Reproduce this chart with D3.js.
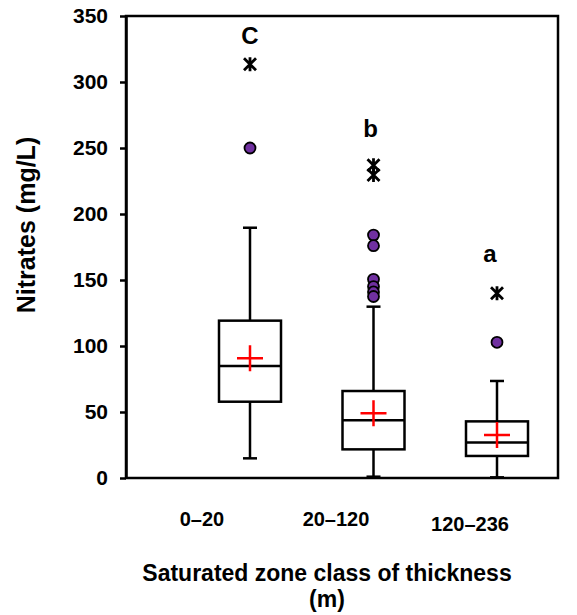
<!DOCTYPE html>
<html>
<head>
<meta charset="utf-8">
<title>Nitrates by saturated zone thickness</title>
<script src="https://d3js.org/d3.v7.min.js"></script>
<style>
  body { margin: 0; background: #fff; }
  svg { font-family: Arial, "Liberation Sans", sans-serif; }
  .axis text { font-size: 21px; font-weight: bold; fill: #000; }
  .axis path, .axis line { stroke: #000; stroke-width: 2.5; }
</style>
</head>
<body>
<script>
// data
const categories = ["0\u201320", "20\u2013120", "120\u2013236"];
const q1     = [57.8, 21.7, 16.7];
const median = [84.8, 43.7, 26.8];
const q3     = [119.2, 65.9, 42.9];
const whiskLow  = [14.9, 1, 0.5];
const whiskHigh = [189.6, 129.8, 73.5];
const means  = [90.7, 49, 32.6];
const circleOutliers = [[250], [184, 176, 150.5, 145, 141, 137.5], [102.8]];
const starOutliers   = [[313.4], [237, 229.5], [140]];
const groupLetters   = ["C", "b", "a"];
const letterLevel    = [329, 258, 164];
const yTicks = [0, 50, 100, 150, 200, 250, 300, 350];

const width = 577, height = 615;
const plot = {left: 126, right: 558, top: 16, bottom: 478};

const svg = d3.select("body").append("svg")
  .attr("width", width)
  .attr("height", height);

const y = d3.scaleLinear().domain([0, 350]).range([plot.bottom, plot.top]);
const x = d3.scalePoint().domain(categories).range([250, 497]);
// category labels sit a little left of the boxes in the original
const xLab = d3.scalePoint().domain(categories).range([202, 470]);

const boxW = 62, capW = 14;

// frame
svg.append("rect")
  .attr("x", plot.left).attr("y", plot.top)
  .attr("width", plot.right - plot.left)
  .attr("height", plot.bottom - plot.top)
  .attr("fill", "none").attr("stroke", "#000").attr("stroke-width", 2.5);

// y axis
svg.append("g")
  .attr("class", "axis")
  .attr("transform", "translate(" + plot.left + ",0)")
  .call(d3.axisLeft(y).tickValues(yTicks).tickSize(6).tickPadding(12).tickSizeOuter(0));

svg.append("text")
  .attr("transform", "translate(35,225) rotate(-90)")
  .attr("text-anchor", "middle")
  .style("font-size", "25px").style("font-weight", "bold")
  .text("Nitrates (mg/L)");

// category labels
svg.selectAll(".cat")
  .data(categories)
  .enter().append("text")
    .attr("class", "cat")
    .attr("x", d => xLab(d))
    .attr("y", (d, i) => i === 2 ? 531 : 526)
    .attr("text-anchor", "middle")
    .style("font-size", "20px").style("font-weight", "bold")
    .text(d => d);

svg.append("text")
  .attr("x", 327).attr("y", 581)
  .attr("text-anchor", "middle")
  .style("font-size", "23px").style("font-weight", "bold")
  .text("Saturated zone class of thickness");
svg.append("text")
  .attr("x", 327).attr("y", 607)
  .attr("text-anchor", "middle")
  .style("font-size", "23px").style("font-weight", "bold")
  .text("(m)");

const g = svg.selectAll(".box")
  .data(categories)
  .enter().append("g")
    .attr("class", "box")
    .attr("transform", d => "translate(" + x(d) + ",0)");

// whiskers
g.append("line")
  .attr("y1", (d, i) => y(whiskLow[i])).attr("y2", (d, i) => y(whiskHigh[i]))
  .attr("stroke", "#000").attr("stroke-width", 2.5);
g.append("line")
  .attr("x1", -capW / 2).attr("x2", capW / 2)
  .attr("y1", (d, i) => y(whiskLow[i])).attr("y2", (d, i) => y(whiskLow[i]))
  .attr("stroke", "#000").attr("stroke-width", 2.5);
g.append("line")
  .attr("x1", -capW / 2).attr("x2", capW / 2)
  .attr("y1", (d, i) => y(whiskHigh[i])).attr("y2", (d, i) => y(whiskHigh[i]))
  .attr("stroke", "#000").attr("stroke-width", 2.5);

// box
g.append("rect")
  .attr("x", -boxW / 2).attr("width", boxW)
  .attr("y", (d, i) => y(q3[i]))
  .attr("height", (d, i) => y(q1[i]) - y(q3[i]))
  .attr("fill", "#fff").attr("stroke", "#000").attr("stroke-width", 2.5);
g.append("line")
  .attr("x1", -boxW / 2).attr("x2", boxW / 2)
  .attr("y1", (d, i) => y(median[i])).attr("y2", (d, i) => y(median[i]))
  .attr("stroke", "#000").attr("stroke-width", 2.5);

// mean cross
g.append("path")
  .attr("d", (d, i) => {
    const m = y(means[i]);
    return "M-13," + m + "H13M0," + (m - 13) + "V" + (m + 13);
  })
  .attr("stroke", "#ff0000").attr("stroke-width", 2.5).attr("fill", "none");

// outliers
g.each(function(d, i) {
  const sel = d3.select(this);
  sel.selectAll(".circ")
    .data(circleOutliers[i])
    .enter().append("circle")
      .attr("class", "circ")
      .attr("cy", v => y(v))
      .attr("r", 5.5)
      .attr("fill", "#7030a0").attr("stroke", "#000").attr("stroke-width", 1.8);
  sel.selectAll(".star")
    .data(starOutliers[i])
    .enter().append("path")
      .attr("class", "star")
      .attr("d", v => {
        const c = y(v), s = 7, t = 6;
        return "M0," + (c - s) + "V" + (c + s) +
          "M" + (-t) + "," + (c - t) + "L" + t + "," + (c + t) +
          "M" + (-t) + "," + (c + t) + "L" + t + "," + (c - t);
      })
      .attr("stroke", "#000").attr("stroke-width", 2.8).attr("fill", "none");
  sel.append("text")
    .attr("x", i === 1 ? -3 : (i === 2 ? -7 : 0))
    .attr("y", y(letterLevel[i]))
    .attr("text-anchor", "middle")
    .style("font-size", "24px").style("font-weight", "bold")
    .text(groupLetters[i]);
});
</script>
</body>
</html>
